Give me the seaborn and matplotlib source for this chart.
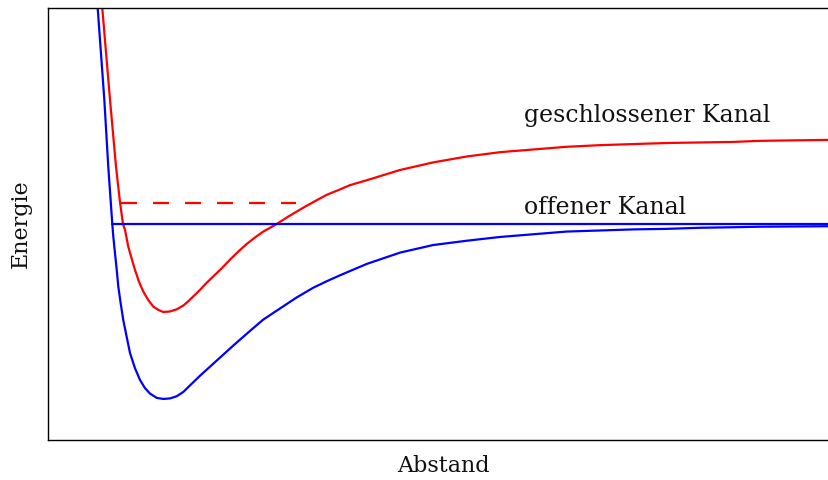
import matplotlib
matplotlib.use("Agg")
import matplotlib.pyplot as plt
import pandas as pd
import seaborn as sns

# Open channel potential: internuclear distance (arb. units) vs energy (arb. units)
open_r = [0.613, 0.629, 0.713, 0.763, 0.814, 0.827, 0.848, 0.870, 0.890, 0.920,
          0.953, 0.996, 1.038, 1.101, 1.165, 1.228, 1.291, 1.376, 1.459, 1.544,
          1.629, 1.713, 1.797, 1.861, 1.924, 2.135, 2.346, 2.557, 2.725, 2.962,
          3.148, 3.358, 3.528, 3.696, 4.034, 4.456, 4.873, 5.300, 5.722,
          6.143, 6.566, 6.987, 7.405, 7.832, 8.253, 8.675, 9.013, 10.0]
open_E = [4.33, 4.00, 2.30, 1.06, 0.00, -0.24, -0.54, -0.85, -1.16, -1.47,
          -1.78, -2.09, -2.39, -2.67, -2.89, -3.04, -3.14, -3.22, -3.24, -3.23,
          -3.19, -3.11, -2.99, -2.90, -2.81, -2.53, -2.25, -1.98, -1.77, -1.54,
          -1.36, -1.18, -1.06, -0.95, -0.74, -0.53, -0.39, -0.31, -0.24,
          -0.19, -0.14, -0.12, -0.10, -0.09, -0.07, -0.06, -0.05, -0.04]

# Closed channel potential
closed_r = [0.668, 0.687, 0.785, 0.823, 0.861, 0.911, 0.949, 0.975, 1.016,
            1.059, 1.101, 1.152, 1.206, 1.270, 1.333, 1.396, 1.459, 1.544, 1.629,
            1.713, 1.776, 1.861, 1.924, 1.987, 2.092, 2.199, 2.304, 2.409, 2.515,
            2.620, 2.725, 2.895, 3.022, 3.148, 3.253, 3.401, 3.528, 3.696, 3.823,
            4.034, 4.456, 4.873, 5.300, 5.722, 6.143, 6.566, 6.987, 7.405, 7.832,
            8.253, 8.675, 9.013, 10.0]
closed_E = [4.33, 4.00, 2.30, 1.68, 1.06, 0.41, 0.00, -0.11, -0.42,
            -0.64, -0.85, -1.07, -1.25, -1.41, -1.53, -1.59, -1.63, -1.62, -1.58,
            -1.51, -1.43, -1.31, -1.22, -1.12, -0.97, -0.82, -0.66, -0.51, -0.37,
            -0.25, -0.14, 0.00, 0.12, 0.23, 0.32, 0.44, 0.54, 0.64, 0.72,
            0.81, 1.00, 1.14, 1.25, 1.33, 1.38, 1.43, 1.46, 1.48, 1.50,
            1.51, 1.52, 1.54, 1.56]

# Scattering threshold of the open channel and bound state of the closed channel
threshold_r = [0.806, 10.0]
threshold_E = [0.0, 0.0]
bound_r = [0.92, 3.14]
bound_E = [0.39, 0.39]

labels = ["geschlossener Kanal", "offener Kanal"]
label_r = [6.03, 6.03]
label_E = [1.89, 0.185]

sns.set_style("white")
plt.rcParams["font.family"] = ["DejaVu Serif"]

fig = plt.figure(figsize=(8.29, 4.8), dpi=100)
ax = fig.add_axes([48 / 829, 40 / 480, 790 / 829, 432 / 480])

red = "#ff0000"
blue = "#0000ff"

open_df = pd.DataFrame({"r": open_r, "E": open_E})
closed_df = pd.DataFrame({"r": closed_r, "E": closed_E})

line_kw = dict(lw=1.6, estimator=None, sort=False, ax=ax,
               solid_joinstyle="round", solid_capstyle="round")
sns.lineplot(data=open_df, x="r", y="E", color=blue, **line_kw)
sns.lineplot(data=closed_df, x="r", y="E", color=red, **line_kw)
sns.lineplot(x=threshold_r, y=threshold_E, color=blue, lw=1.6, estimator=None,
             ax=ax)
sns.lineplot(x=bound_r, y=bound_E, color=red, lw=1.6, estimator=None, ax=ax)
ax.lines[-1].set_dashes((7.2, 7.2))

for txt, r, e in zip(labels, label_r, label_E):
    ax.text(r, e, txt, fontsize=17, va="baseline", ha="left", color="#111111")

ax.set_xlim(0, 10)
ax.set_ylim(-4, 4)
ax.set_xticks([])
ax.set_yticks([])
ax.set_xlabel("Abstand", fontsize=16, labelpad=11, color="#111111")
ax.set_ylabel("Energie", fontsize=16, labelpad=12, color="#111111")
for s in ax.spines.values():
    s.set_color("black")
    s.set_linewidth(1.0)
    s.set_visible(True)

fig.savefig("out.png", dpi=100)
